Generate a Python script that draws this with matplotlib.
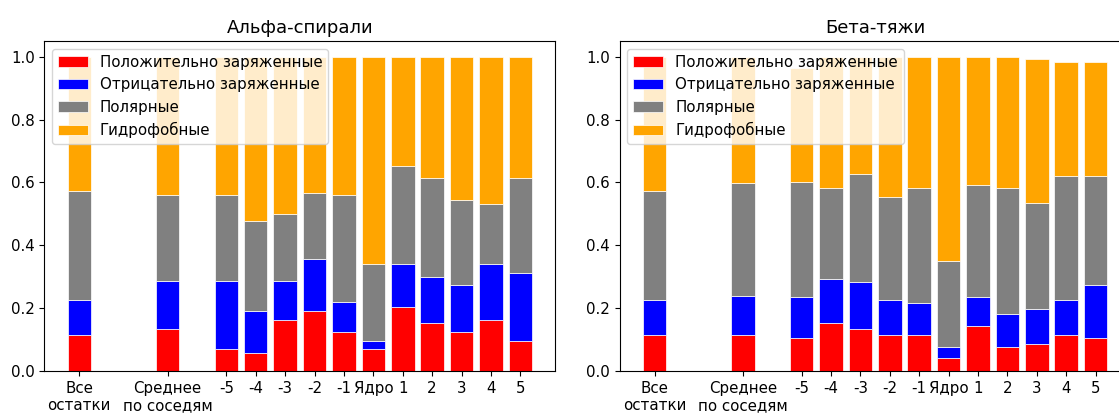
import matplotlib
matplotlib.use('Agg')
import matplotlib.pyplot as plt
import numpy as np

labels = ['Все\nостатки', 'Среднее\nпо соседям', '-5', '-4', '-3', '-2', '-1',
          'Ядро', '1', '2', '3', '4', '5']
groups = ['Положительно заряженные', 'Отрицательно заряженные', 'Полярные', 'Гидрофобные']
colors = ['red', 'blue', 'gray', 'orange']

# доли групп аминокислот в альфа-спиралях
alpha_pos = [0.114, 0.134, 0.070, 0.056, 0.162, 0.192, 0.123, 0.070, 0.205, 0.153, 0.123, 0.162, 0.095]
alpha_neg = [0.111, 0.154, 0.218, 0.136, 0.126, 0.163, 0.097, 0.025, 0.136, 0.145, 0.151, 0.179, 0.217]
alpha_pol = [0.348, 0.271, 0.271, 0.284, 0.212, 0.213, 0.339, 0.246, 0.310, 0.315, 0.270, 0.189, 0.301]
alpha_hyd = [0.427, 0.441, 0.441, 0.524, 0.500, 0.432, 0.441, 0.659, 0.349, 0.387, 0.456, 0.470, 0.387]

# доли групп аминокислот в бета-тяжах
beta_pos = [0.114, 0.114, 0.104, 0.153, 0.134, 0.114, 0.114, 0.041, 0.143, 0.076, 0.085, 0.114, 0.104]
beta_neg = [0.111, 0.125, 0.131, 0.139, 0.148, 0.111, 0.101, 0.034, 0.092, 0.105, 0.112, 0.111, 0.169]
beta_pol = [0.348, 0.358, 0.367, 0.291, 0.344, 0.329, 0.368, 0.276, 0.358, 0.402, 0.338, 0.396, 0.348]
beta_hyd = [0.427, 0.403, 0.362, 0.417, 0.374, 0.446, 0.417, 0.649, 0.407, 0.417, 0.459, 0.362, 0.362]

# "Все остатки" и "Среднее" отделены от позиций -5..5 пустыми местами
x = np.r_[0, 3, np.arange(5, 16)]

plt.rcParams['font.size'] = 10.8

fig = plt.figure(figsize=(11.19, 4.15), dpi=100)
ax1 = fig.add_axes([0.0396, 0.106, 0.4567, 0.795])
ax2 = fig.add_axes([0.5537, 0.106, 0.4567, 0.795])


def stacked(ax, parts, title):
    bottom = np.zeros(len(x))
    for vals, color, name in zip(parts, colors, groups):
        ax.bar(x, vals, 0.8, bottom=bottom, color=color, label=name,
               edgecolor='white', linewidth=0.5)
        bottom += np.array(vals)
    ax.set_xticks(x)
    ax.set_xticklabels(labels)
    ax.set_title(title, fontsize=13)
    ax.legend(loc='upper left')


stacked(ax1, [alpha_pos, alpha_neg, alpha_pol, alpha_hyd], 'Альфа-спирали')
stacked(ax2, [beta_pos, beta_neg, beta_pol, beta_hyd], 'Бета-тяжи')

plt.savefig('out.png', dpi=100)
